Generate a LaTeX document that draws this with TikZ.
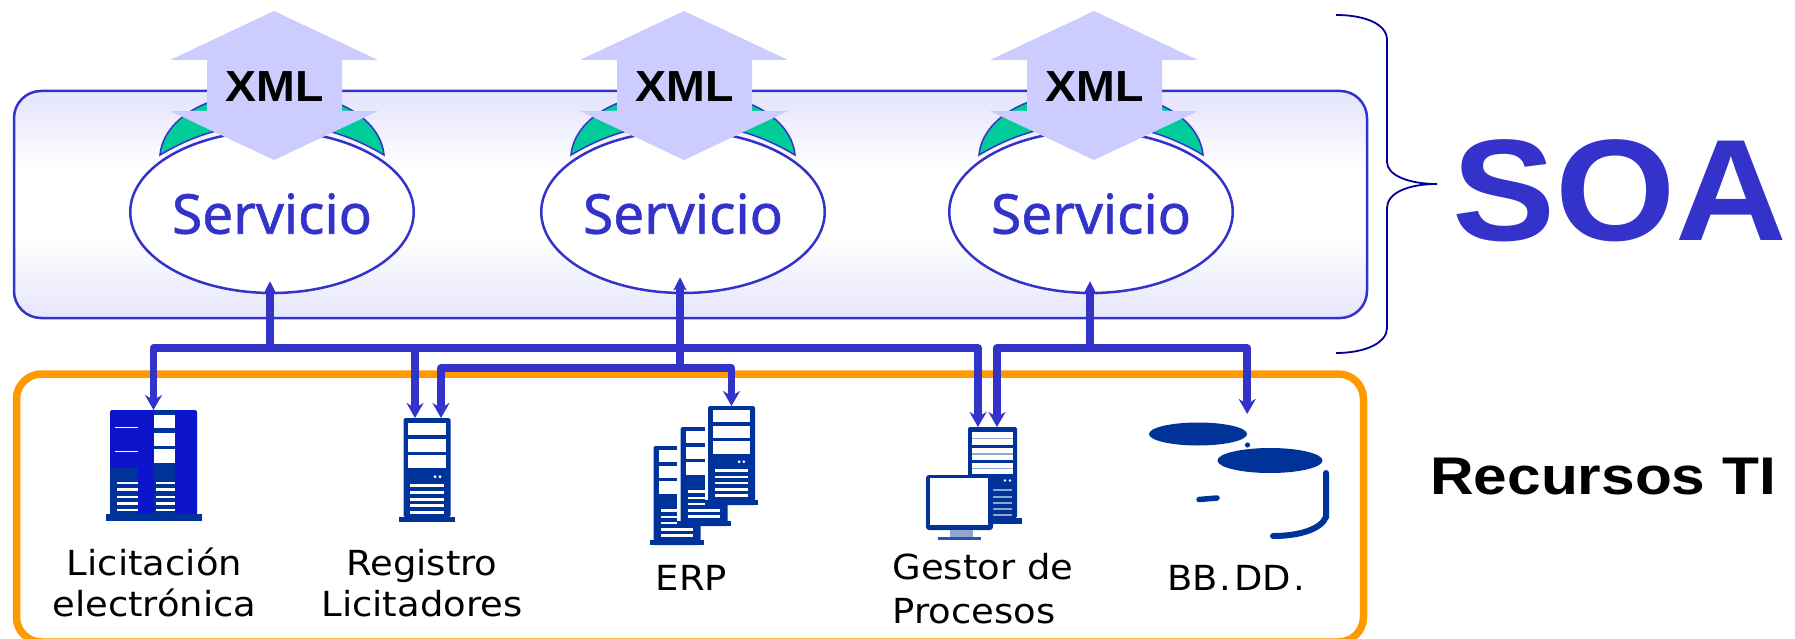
\documentclass[tikz,border=0pt]{standalone}
\usepackage{fontspec}
\usetikzlibrary{arrows.meta,shapes.geometric}
\setmainfont{DejaVu Sans}
\newfontfamily\rotulofont[FakeStretch=1.07]{DejaVu Sans}
\newfontfamily\servfont[FakeBold=1]{Noto Sans}
\newfontfamily\arialfont[FakeStretch=1.07]{Liberation Sans}
\newfontfamily\recursofont[FakeStretch=1.14]{Liberation Sans}
\definecolor{azul}{HTML}{3333CC}
\definecolor{oscuro}{HTML}{003399}
\definecolor{vivo}{HTML}{0D14CC}
\definecolor{palido}{HTML}{8FA6D0}
\definecolor{flecha}{HTML}{CCCCFF}
\definecolor{verde}{HTML}{00CC99}
\definecolor{naranja}{HTML}{FF9900}
\definecolor{llave}{HTML}{000099}
\definecolor{fondo}{HTML}{E8E8FC}
\pgfdeclareverticalshading{capas}{100bp}{color(0bp)=(fondo); color(27bp)=(fondo); color(43bp)=(white); color(58bp)=(white); color(72bp)=(fondo); color(100bp)=(fondo)}
% one tower: name, x, y of its top, scale
\newcommand{\servidor}[4]{
    \begin{scope}[shift={(#2,#3)},scale=#4]
        \fill[white] (-28,0) rectangle (28,104);
        \node[torre,anchor=north] (#1) at (0,0) {};
        \fill[oscuro] (-28,99) rectangle (28,104);
        \foreach \ya/\yb in {4.7/17,21.3/33.7,37/50.3}
            \fill[white] (-19,\ya) rectangle (19,\yb);
        \foreach \xa in {8,13}
            \fill[white] (\xa,58.7) circle (1.6);
        \foreach \ya in {67.7,74.7,81.3,87.7,94.3}
            \fill[white] (-17,\ya-1.3) rectangle (17,\ya+1.3);
    \end{scope}
}
\begin{document}
\begin{tikzpicture}[x=1pt,y=-1pt,
                    caja/.style={draw=azul, line width=2.5pt, rounded corners=27pt, shading=capas, minimum width=1353pt, minimum height=227pt, inner sep=0pt},
                    marco/.style={draw=naranja, line width=7.5pt, rounded corners=25pt, minimum width=1347pt, minimum height=268pt, inner sep=0pt},
                    servicio/.style={draw=azul, line width=2.5pt, fill=white, ellipse, minimum width=283.5pt, minimum height=162pt, inner sep=0pt, text=azul, text height=44pt, font=\servfont\fontsize{55}{60}\selectfont},
                    xmltag/.style={anchor=base, inner sep=0pt, font=\arialfont\bfseries\fontsize{43.5}{48}\selectfont},
                    rotulo/.style={inner sep=0pt, align=center, font=\rotulofont\fontsize{34.5}{41.5}\selectfont},
                    torre/.style={fill=oscuro, rounded corners=1.5pt, minimum width=47pt, minimum height=99pt, inner sep=0pt},
                    disco/.style={ellipse, fill=oscuro, inner sep=0pt},
                    hilo/.style={draw=azul, line width=7.5pt, line join=round, -{Stealth[length=15pt,width=17pt,inset=5pt]}},
                    subida/.style={draw=azul, line width=7.5pt, -{Stealth[length=13pt,width=13pt,inset=3pt]}}]
    \useasboundingbox (0,0) rectangle (1795,639);
    % Place nodes
    \node[caja] (capaSOA) at (690.5,204.5) {};
    \node[marco] (capaTI) at (690,508) {};
    \foreach \nombre/\cx/\ax in {svcA/272/274,svcB/683/684,svcC/1091/1094}{
        \begin{scope}[shift={(\cx,0)}]
            \draw[draw=azul, line width=1.5pt, fill=verde] (-112,155) .. controls (-109,122) and (-70,92) .. (0,92)
                .. controls (70,92) and (109,122) .. (112,155)
                .. controls (75,133) and (40,124) .. (0,124)
                .. controls (-40,124) and (-75,133) .. (-112,155) -- cycle;
        \end{scope}
        \node[servicio] (\nombre) at (\cx,212) {Servicio};
        \begin{scope}[shift={(\ax,0)}]
            \fill[flecha] (0,11) -- (104,60) -- (68,60) -- (68,111) -- (104,111) -- (0,160) -- (-104,111) -- (-67,111) -- (-67,60) -- (-104,60) -- cycle;
            \node[xmltag] (xml\nombre) at (.5,101.5) {XML};
        \end{scope}
    }
    \draw[draw=llave, line width=1.8pt] (1336,15) .. controls (1365,15) and (1387,24) .. (1387,40) -- (1387,162)
        .. controls (1387,175) and (1408,184) .. (1437,184)
        .. controls (1408,184) and (1387,193) .. (1387,208) -- (1387,328)
        .. controls (1387,343) and (1365,353) .. (1336,353);
    \node[anchor=base west, inner sep=0pt, text=azul, font=\arialfont\bfseries\fontsize{144.5}{150}\selectfont] (soa) at (1452,240.7) {SOA};
    \node[anchor=base west, inner sep=0pt, font=\recursofont\bfseries\fontsize{53}{58}\selectfont] (recursos) at (1430,494) {Recursos TI};
    % Licitacion
    \node[torre,anchor=north,fill=vivo,minimum width=87pt,minimum height=107pt] (srvA) at (153.5,410) {};
    \fill[oscuro] (106,514) rectangle (202,520.5);
    \fill[oscuro] (110,468) rectangle (138,517);
    \fill[oscuro] (154,410) rectangle (175,517);
    \foreach \ya/\yb in {415/428,433/446,449/463}
        \fill[white] (154,\ya) rectangle (175,\yb);
    \foreach \ya in {482.7,489.3,496.7,503.3,510}{
        \fill[white] (117,\ya-1.2) rectangle (138,\ya+1.2);
        \fill[white] (156,\ya-1.2) rectangle (175,\ya+1.2);
    }
    \foreach \ya in {427.3,451.3}
        \fill[white] (115,\ya-.3) rectangle (138,\ya+.3);
    \servidor{srvB}{427}{418}{1}
    \servidor{srvE}{677}{446}{.95}
    \servidor{srvF}{704}{427}{.95}
    \servidor{srvC}{731.5}{406}{.95}
    % Gestor
    \node[torre,anchor=north,minimum width=49pt,minimum height=91pt] (srvD) at (992.5,427) {};
    \fill[oscuro] (963,518) rectangle (1022,524);
    \foreach \ya/\yb in {432/445,448/460,463/474}{
        \fill[white] (972,\ya) rectangle (1013,\yb);
        \fill[palido] (972,\ya/2+\yb/2-.8) rectangle (1013,\ya/2+\yb/2+.8);
    }
    \foreach \ya in {490,497,503,509,515}
        \fill[palido] (993,\ya-1.3) rectangle (1012,\ya+1.3);
    \fill[white] (1005,480.5) circle (1.3) (1010,480.5) circle (1.3);
    \node[fill=oscuro, rounded corners=3pt, minimum width=67pt, minimum height=55pt, inner sep=0pt] (pantalla) at (959.5,502.5) {};
    \fill[white] (930,478) rectangle (988,525);
    \fill[palido] (950,530) rectangle (973,537);
    \fill[oscuro!70!palido] (938,537) rectangle (981,540);
    % Discos
    \node[disco, minimum width=98pt, minimum height=23pt] (bdA) at (1198,434) {};
    \fill[oscuro] (1247.5,445) circle (2.6);
    \draw[oscuro, line width=5.5pt, line cap=round] (1199,499.5) -- (1217,498);
    \node[disco, minimum width=105pt, minimum height=25pt] (bdB) at (1270,460.5) {};
    \draw[oscuro, line width=6pt, line cap=round] (1326,473) -- (1326,517) .. controls (1321,529) and (1300,536) .. (1273,536);
    % Labels
    \node[rotulo] (lblA) at (154.5,582.5) {Licitación\\electrónica};
    \node[rotulo] (lblB) at (422,583) {Registro\\Licitadores};
    \node[rotulo,anchor=base] (lblC) at (691.5,590) {ERP};
    \node[rotulo,align=left,font=\rotulofont\fontsize{34.5}{44}\selectfont] (lblD) at (983,589) {Gestor de\\Procesos};
    \node[rotulo,anchor=base] (lblE) at (1236,590) {BB\kern2pt.\kern3pt DD\kern2pt.};
    % Draw edges
    \coordinate (busA) at (270,348);
    \coordinate (busB) at (680,368);
    \coordinate (busC) at (1090,348);
    \draw[hilo] (busA) -| (srvA.north);
    \draw[hilo] (busA) -| ([xshift=-12pt]srvB.north);
    \draw[hilo] (busA) -| ([xshift=-14.5pt]srvD.north);
    \draw[hilo] (busB) -| ([xshift=14pt]srvB.north);
    \draw[hilo] (busB) -| (srvC.north);
    \draw[hilo] (busC) -| ([xshift=4.5pt]srvD.north);
    \draw[hilo] (busC) -| ([yshift=20pt]bdA.east);
    \draw[subida] (busA) -- ([yshift=13pt]svcA.south -| busA);
    \draw[subida] (busB) -- ([yshift=17pt]svcB.south -| busB);
    \draw[subida] (busC) -- ([yshift=13pt]svcC.south -| busC);
\end{tikzpicture}
\end{document}
